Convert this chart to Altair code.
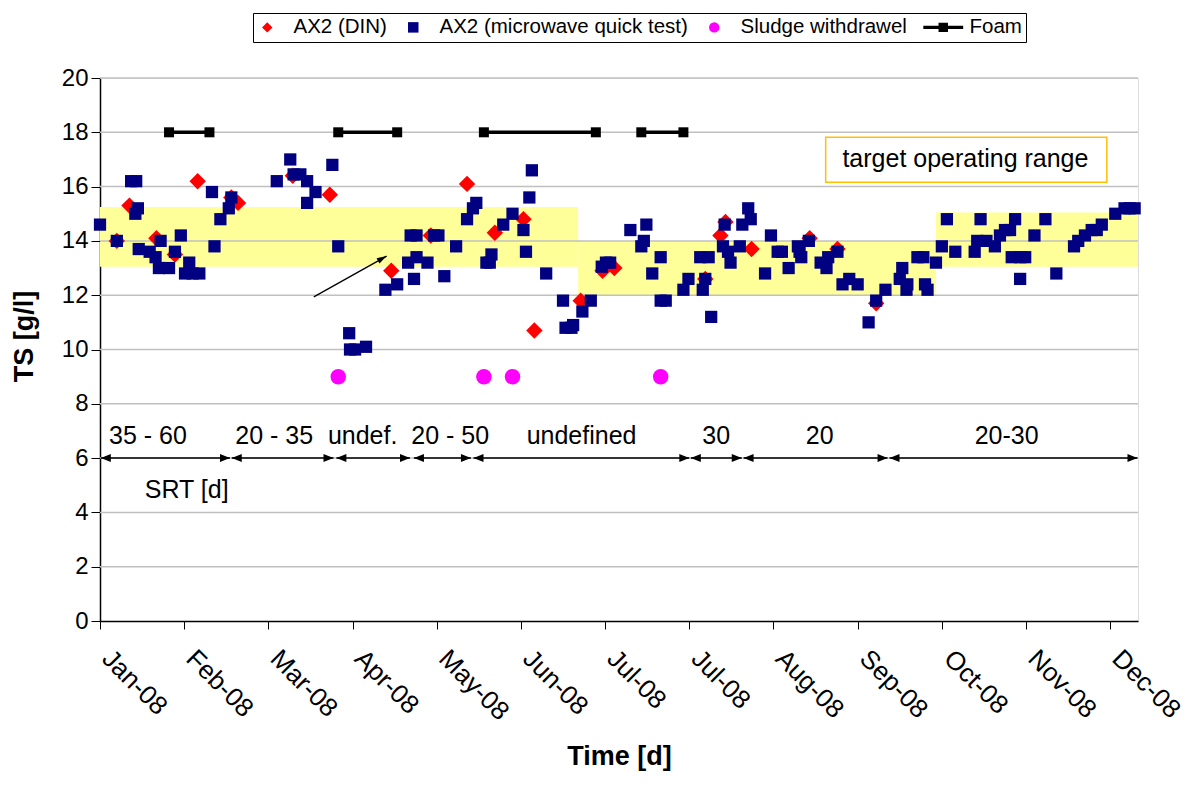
import altair as alt
import pandas as pd

FONT = "Liberation Sans"

months = ["Jan-08", "Feb-08", "Mar-08", "Apr-08", "May-08", "Jun-08", "Jul-08",
          "Jul-08", "Aug-08", "Sep-08", "Oct-08", "Nov-08", "Dec-08"]
month_pos = list(range(13))
y_ticks = list(range(0, 21, 2))

# AX2 (DIN) – red diamonds
din_x = [0.20, 0.35, 0.67, 0.89, 1.16, 1.56, 1.64, 2.29, 2.73, 3.46, 3.93, 4.36, 4.69,
         5.03, 5.16, 5.71, 5.97, 6.11, 7.19, 7.37, 7.43, 7.74, 8.43, 8.76, 9.22]
din_y = [14.0, 15.3, 14.1, 13.5, 16.2, 15.6, 15.4, 16.4, 15.7, 12.9, 14.2, 16.1, 14.3,
         14.8, 10.7, 11.8, 12.9, 13.0, 12.6, 14.2, 14.7, 13.7, 14.1, 13.7, 11.7]

# AX2 (microwave quick test) – navy squares
mw_x = [0.00, 0.20, 0.37, 0.43, 0.45, 0.42, 0.46, 0.59, 0.66, 0.70, 0.82, 0.72, 0.89,
        0.96, 1.06, 1.01, 1.10, 1.18, 1.33, 1.36, 1.43, 1.53, 1.56, 2.10, 2.26, 2.30,
        2.38, 2.46, 2.56, 2.46, 2.76, 2.83, 2.96, 2.97, 3.03, 3.16, 3.39, 3.53, 3.66,
        3.76, 3.89, 3.73, 3.69, 3.76, 3.97, 4.02, 4.09, 4.23, 4.36, 4.43, 4.47, 4.59,
        4.65, 4.63, 4.79, 4.90, 5.03, 5.10, 5.13, 5.06, 5.30, 5.50, 5.53, 5.60, 5.62,
        5.73, 5.83, 5.96, 6.01, 6.06, 6.30, 6.49, 6.46, 6.43, 6.66, 6.56, 6.66, 6.72,
        6.93, 6.99, 7.13, 7.23, 7.16, 7.19, 7.26, 7.42, 7.40, 7.46, 7.49, 7.60, 7.63,
        7.70, 7.73, 7.90, 7.97, 8.05, 8.10, 8.18, 8.29, 8.33, 8.31, 8.42, 8.56, 8.63,
        8.65, 8.76, 8.82, 8.90, 9.00, 9.13, 9.22, 9.33, 9.50, 9.53, 9.58, 9.59, 9.71,
        9.78, 9.80, 9.83, 9.93, 10.00, 10.06, 10.16, 10.39, 10.42, 10.53, 10.46, 10.63,
        10.69, 10.75, 10.81, 10.87, 10.83, 10.93, 10.99, 10.93, 11.10, 11.23, 11.36,
        11.57, 11.62, 11.70, 11.78, 11.84, 11.90, 12.06, 12.17, 12.23, 12.29]
mw_y = [14.6, 14.0, 16.2, 16.2, 15.2, 15.0, 13.7, 13.6, 13.4, 13.0, 13.0, 14.0, 13.6,
        14.2, 13.2, 12.8, 12.8, 12.8, 15.8, 13.8, 14.8, 15.2, 15.6, 16.2, 17.0, 16.45,
        16.45, 16.2, 15.8, 15.4, 16.8, 13.8, 10.6, 10.0, 10.0, 10.1, 12.2, 12.4, 13.2,
        13.4, 13.2, 12.6, 14.2, 14.2, 14.2, 14.2, 12.7, 13.8, 14.8, 15.2, 15.4, 13.2,
        13.5, 13.2, 14.6, 15.0, 14.4, 15.6, 16.6, 13.6, 12.8, 11.8, 10.8, 10.8, 10.9,
        11.4, 11.8, 13.05, 13.2, 13.2, 14.4, 14.6, 14.0, 13.8, 13.4, 12.8, 11.8, 11.8,
        12.2, 12.6, 13.4, 13.4, 12.2, 12.6, 11.2, 14.6, 13.8, 13.6, 13.2, 13.8, 14.6,
        15.2, 14.8, 12.8, 14.2, 13.6, 13.6, 13.0, 13.8, 13.4, 13.6, 14.0, 13.2, 13.0,
        13.4, 13.6, 12.4, 12.6, 12.4, 11.0, 11.8, 12.2, 12.6, 13.0, 12.2, 12.4, 13.4,
        13.4, 12.4, 12.2, 13.2, 13.8, 14.8, 13.6, 13.6, 14.0, 14.0, 14.8, 13.8,
        14.2, 14.4, 14.4, 14.8, 13.4, 13.4, 13.4, 12.6, 14.2, 14.8, 12.8,
        13.8, 14.0, 14.2, 14.4, 14.4, 14.6, 15.0, 15.2, 15.2, 15.2]

# Sludge withdrawal – magenta circles
sludge_x = [2.83, 4.56, 4.90, 6.66]
sludge_y = [9.0, 9.0, 9.0, 9.0]

# Foam periods
foam_start = [0.82, 2.83, 4.56, 6.43]
foam_end = [1.30, 3.53, 5.89, 6.93]
foam_y = [18.0, 18.0, 18.0, 18.0]

# Target operating range bands
band_x = [0.0, 5.68, 9.93]
band_x2 = [5.68, 9.93, 12.33]
band_lo = [13.05, 12.0, 13.05]
band_hi = [15.25, 14.0, 15.05]

# SRT periods
srt_start = [0.01, 1.565, 2.808, 3.729, 4.437, 7.018, 7.645, 9.378]
srt_end = [1.544, 2.774, 3.682, 4.406, 7.000, 7.623, 9.355, 12.324]
srt_level = [6.0] * 8
srt_labels = ["35 - 60", "20 - 35", "undef.", "20 - 50", "undefined", "30", "20", "20-30"]
srt_label_x = [0.57, 2.07, 3.12, 4.16, 5.72, 7.32, 8.55, 10.77]
srt_label_y = [6.83] * 8

# annotations
srt_title = ["SRT [d]"]
srt_title_x = [1.03]
srt_title_y = [4.84]
target_text = ["target operating range"]
target_box_x = [8.62]
target_box_x2 = [11.96]
target_box_y = [16.16]
target_box_y2 = [17.82]
target_text_x = [10.28]
target_text_y = [17.0]
pointer_x = [2.54]
pointer_y = [11.94]
pointer_x2 = [3.405]
pointer_y2 = [13.44]

series_names = ["AX2 (DIN)", "AX2 (microwave quick test)", "Sludge withdrawel", "Foam"]
series_colors = ["#FF0000", "#000080", "#FF00FF", "#000000"]
foam_symbol = ("M-3.8,-0.3 L-0.9,-0.3 L-0.9,-0.9 L0.9,-0.9 L0.9,-0.3 L3.8,-0.3 "
               "L3.8,0.3 L0.9,0.3 L0.9,0.9 L-0.9,0.9 L-0.9,0.3 L-3.8,0.3 Z")
series_shapes = ["diamond", "square", "circle", foam_symbol]

din_df = pd.DataFrame({"x": din_x, "y": din_y, "series": series_names[0]})
mw_df = pd.DataFrame({"x": mw_x, "y": mw_y, "series": series_names[1]})
sl_df = pd.DataFrame({"x": sludge_x, "y": sludge_y, "series": series_names[2]})
foam_df = pd.DataFrame({"x": foam_start, "x2": foam_end, "y": foam_y})
foam_pts = pd.DataFrame({"x": foam_start + foam_end, "y": foam_y + foam_y})
band_df = pd.DataFrame({"x": band_x, "x2": band_x2, "y": band_lo, "y2": band_hi})
grid_df = pd.DataFrame({"y": y_ticks[1:]})
srt_df = pd.DataFrame({"x": srt_start, "x2": srt_end, "y": srt_level})
srt_l_df = pd.DataFrame({"x": srt_start, "y": srt_level})
srt_r_df = pd.DataFrame({"x": srt_end, "y": srt_level})
srt_lab_df = pd.DataFrame({"x": srt_label_x, "y": srt_label_y, "t": srt_labels})
srt_title_df = pd.DataFrame({"x": srt_title_x, "y": srt_title_y, "t": srt_title})
box_df = pd.DataFrame({"x": target_box_x, "x2": target_box_x2, "y": target_box_y, "y2": target_box_y2})
tt_df = pd.DataFrame({"x": target_text_x, "y": target_text_y, "t": target_text})
ptr_df = pd.DataFrame({"x": pointer_x, "y": pointer_y, "x2": pointer_x2, "y2": pointer_y2})
ptr_head = pd.DataFrame({"x": pointer_x2, "y": pointer_y2})

xs = alt.Scale(domain=[0, 12.33], nice=False, zero=False)
ys = alt.Scale(domain=[0, 20], nice=False, zero=True)

label_expr = "[" + ",".join("'%s'" % m for m in months) + "][datum.value]"
x_axis = alt.Axis(values=month_pos, labelExpr=label_expr, labelAngle=45, labelAlign="left",
                  labelBaseline="top", labelFontSize=26, labelPadding=16, labelOffset=15,
                  labelColor="black", labelFont=FONT, tickSize=8, tickColor="black",
                  tickWidth=1, domainColor="black", domainWidth=1.5, grid=False,
                  title="Time [d]", titleFontSize=27, titleFontWeight="bold",
                  titleFont=FONT, titleColor="black", titleX=519, titleY=135,
                  titleAlign="center", titleBaseline="middle", labelFlush=False,
                  labelOverlap=False)
y_axis = alt.Axis(values=y_ticks, grid=False, tickSize=9, tickColor="black", tickWidth=1,
                  domainColor="black", domainWidth=1.5, labelFontSize=24, labelPadding=3,
                  labelColor="black", labelFont=FONT, title="TS [g/l]", titleFontSize=27,
                  titleFontWeight="bold", titleFont=FONT, titleColor="black",
                  titleAngle=270, titleX=-76, titleY=258, titleAlign="center",
                  titleBaseline="middle")


def X(f="x"):
    return alt.X(f + ":Q", scale=xs, axis=x_axis)


def Y(f="y"):
    return alt.Y(f + ":Q", scale=ys, axis=y_axis)


legend = alt.Legend(title=None, orient="none", legendX=153, legendY=-65, direction="horizontal",
                    columns=4, symbolSize=110, labelFontSize=20.5, labelFont=FONT,
                    labelColor="black", labelOffset=16, columnPadding=16, padding=4,
                    strokeColor="black", fillColor="white", symbolStrokeWidth=0,
                    labelLimit=400)
color_enc = alt.Color("series:N", scale=alt.Scale(domain=series_names, range=series_colors),
                      legend=legend)
shape_enc = alt.Shape("series:N", scale=alt.Scale(domain=series_names, range=series_shapes),
                      legend=legend)

bands = alt.Chart(band_df).mark_rect(color="#FFFF99").encode(x=X(), x2="x2", y=Y(), y2="y2")
grid = alt.Chart(grid_df).mark_rule(color="#C0C0C0", strokeWidth=1.5).encode(y=Y())
box = alt.Chart(box_df).mark_rect(fill="white", stroke="#FFC000", strokeWidth=1.5).encode(
    x=X(), x2="x2", y=Y(), y2="y2")
box_text = alt.Chart(tt_df).mark_text(fontSize=25, font=FONT, color="black", baseline="middle",
                                      align="center").encode(x=X(), y=Y(), text="t:N")

srt_lines = alt.Chart(srt_df).mark_rule(color="black", strokeWidth=1.5).encode(
    x=X(), x2="x2", y=Y())
arrow_l = alt.Chart(srt_l_df).mark_point(shape="M0,0 L2,-0.8 L2,0.8 Z", size=100, filled=True,
                                         color="black", opacity=1).encode(x=X(), y=Y())
arrow_r = alt.Chart(srt_r_df).mark_point(shape="M0,0 L-2,-0.8 L-2,0.8 Z", size=100, filled=True,
                                         color="black", opacity=1).encode(x=X(), y=Y())
srt_text = alt.Chart(srt_lab_df).mark_text(fontSize=25, font=FONT, color="black",
                                           baseline="middle", align="center").encode(
    x=X(), y=Y(), text="t:N")
srt_title_t = alt.Chart(srt_title_df).mark_text(fontSize=25, font=FONT, color="black",
                                                baseline="middle", align="center").encode(
    x=X(), y=Y(), text="t:N")

pointer = alt.Chart(ptr_df).mark_rule(color="black", strokeWidth=1.3).encode(
    x=X(), y=Y(), x2="x2", y2="y2")
pointer_head = alt.Chart(ptr_head).mark_point(shape="M0,0 L-3.3,-1 L-3.3,1 Z", size=36,
                                              filled=True, color="black", opacity=1,
                                              angle=331).encode(x=X(), y=Y())

foam_lines = alt.Chart(foam_df).mark_rule(color="black", strokeWidth=3.5).encode(
    x=X(), x2="x2", y=Y())
foam_sq = alt.Chart(foam_pts).mark_point(shape="square", size=100, filled=True, color="black",
                                         opacity=1).encode(x=X(), y=Y())

din = alt.Chart(din_df).mark_point(filled=True, size=270, opacity=1).encode(
    x=X(), y=Y(), color=color_enc, shape=shape_enc)
mw = alt.Chart(mw_df).mark_point(filled=True, size=150, opacity=1).encode(
    x=X(), y=Y(), color=color_enc, shape=shape_enc)
sl = alt.Chart(sl_df).mark_point(filled=True, size=240, opacity=1).encode(
    x=X(), y=Y(), color=color_enc, shape=shape_enc)

chart = alt.layer(
    bands, grid, box, box_text, srt_lines, arrow_l, arrow_r, srt_text, srt_title_t,
    pointer, pointer_head, foam_lines, foam_sq, din, mw, sl
).properties(
    width=1038, height=543,
    padding={"left": 92, "top": 70, "right": 53, "bottom": 160},
    autosize=alt.AutoSizeParams(type="none"),
).configure_view(
    stroke="#A0A0A0", strokeWidth=1.5
).configure(
    font=FONT, background="white"
)

chart.save("out.html", embed_options={"renderer": "svg", "actions": False})
